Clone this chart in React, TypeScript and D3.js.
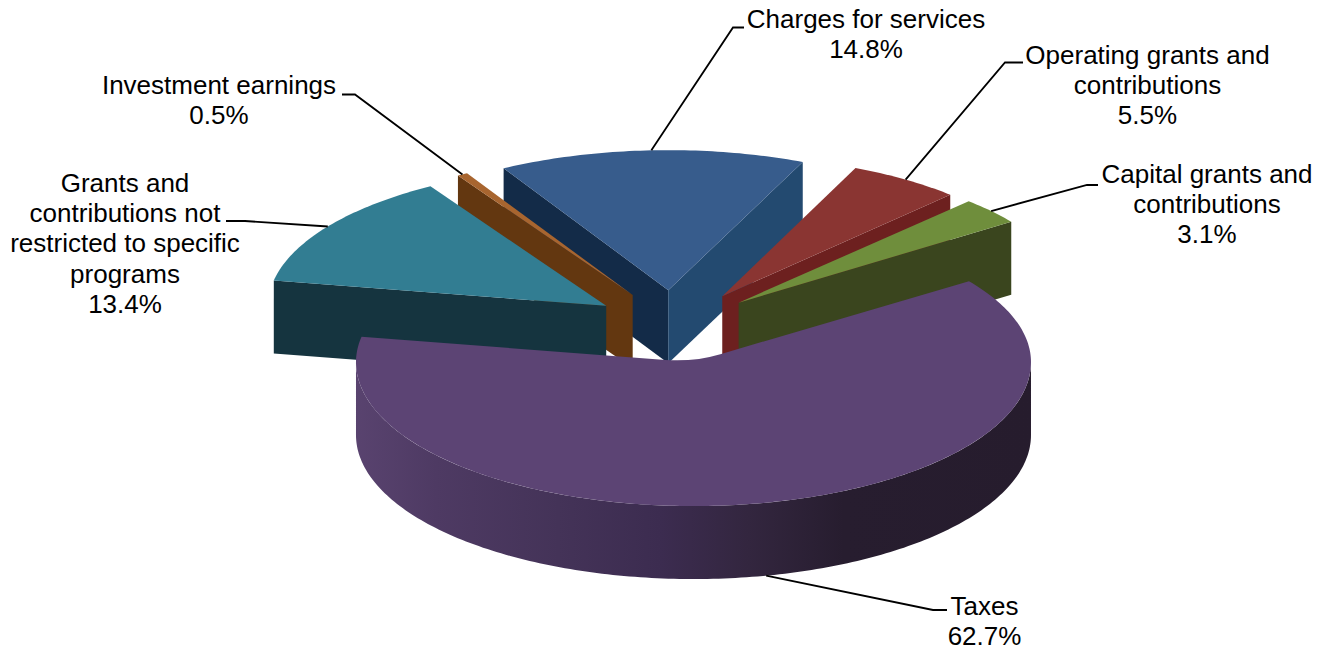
import React from "react";
import * as d3 from "d3";

// Share of revenue by source, in percent, clockwise from the Taxes slice
const categories = [
  "Taxes",
  "Grants and contributions not restricted to specific programs",
  "Investment earnings",
  "Charges for services",
  "Operating grants and contributions",
  "Capital grants and contributions",
];
const shares = [62.7, 13.4, 0.5, 14.8, 5.5, 3.1];
const shareLabels = ["62.7%", "13.4%", "0.5%", "14.8%", "5.5%", "3.1%"];

// Wrapped label text for each slice
const labelLines = [
  ["Taxes"],
  ["Grants and", "contributions not", "restricted to specific", "programs"],
  ["Investment earnings"],
  ["Charges for services"],
  ["Operating grants and", "contributions"],
  ["Capital grants and", "contributions"],
];

// Slice colours: top face, wall at the start angle, wall at the end angle
const topColors = ["#5c4474", "#327d92", "#a8652f", "#375c8c", "#8a3532", "#6f8e3c"];
const startWallColors = ["#3d2d50", "#15343f", "#633710", "#132b48", "#6d201f", "#3a451e"];
const endWallColors = ["#3d2d50", "#15343f", "#633710", "#234a70", "#6d201f", "#3a451e"];

// Perspective: far slices draw a little narrower than near ones
const sliceRadiusX = [337.5, 338, 336, 334, 331, 334];
const sliceShiftX = [0.5, 0, 0, -2.5, 1, 0.5];

// Label placement: text centre, first baseline, leader elbow and leader end
const labelCenters = [984.5, 125, 219, 866, 1147.5, 1207];
const labelBaselines = [615, 192, 94, 27.5, 64, 183];
const leaderElbows = [[933, 610], [245, 221], [355, 94.5], [733, 27.5], [1005, 62.5], [1087, 185]];
const leaderEnds = [[947, 610], [226, 221], [342, 94.5], [744, 27.5], [1023, 62.5], [1098, 185]];

const WIDTH = 1325;
const HEIGHT = 651;
const CENTER_X = 675;
const CENTER_Y = 326.5;
const RADIUS_Y_FAR = 140;
const RADIUS_Y_NEAR = 144;
const DEPTH = 73;
const EXPLODE = 83.5;
const EXPLODE_Y = 36.4;
const LINE_HEIGHT = 30.2;
const START_ANGLE = (54.7 * Math.PI) / 180;

const FONT = "'Liberation Sans', Arial, sans-serif";

const slices = d3
  .pie<number>()
  .sort(null)
  .value((d) => d)
  .startAngle(START_ANGLE)
  .endAngle(START_ANGLE + 2 * Math.PI)(shares);

type Pt = [number, number];

// Angles run clockwise from twelve o'clock on the tilted ellipse
const rim = (i: number, o: Pt, a: number, dy = 0): Pt => {
  const c = Math.cos(a);
  return [
    o[0] + sliceRadiusX[i] * Math.sin(a),
    o[1] - (c > 0 ? RADIUS_Y_FAR : RADIUS_Y_NEAR) * c + dy,
  ];
};

const line = d3.line<Pt>();

const arcPoints = (i: number, o: Pt, a0: number, a1: number, dy = 0): Pt[] => {
  const n = Math.max(4, Math.ceil(Math.abs(a1 - a0) * 60));
  return d3.range(n + 1).map((k) => rim(i, o, a0 + ((a1 - a0) * k) / n, dy));
};

const apexOf = (i: number, midAngle: number): Pt => [
  CENTER_X + sliceShiftX[i] + EXPLODE * Math.sin(midAngle),
  CENTER_Y - EXPLODE_Y * Math.cos(midAngle),
];

// Top face; the large slice gets a softened reflex corner at its apex
const topPath = (i: number, o: Pt, a0: number, a1: number, round: number) => {
  const arc = arcPoints(i, o, a0, a1);
  const body = line(arc) as string;
  if (!round) return `${body}L${o[0]},${o[1]}Z`;
  const toward = (p: Pt): Pt => {
    const d = Math.hypot(p[0] - o[0], p[1] - o[1]);
    return [o[0] + ((p[0] - o[0]) / d) * round, o[1] + ((p[1] - o[1]) / d) * round];
  };
  const a = toward(arc[arc.length - 1]);
  const b = toward(arc[0]);
  return `${body}L${a[0]},${a[1]}Q${o[0]},${o[1]} ${b[0]},${b[1]}Z`;
};

const radialWall = (i: number, o: Pt, a: number) => {
  const p = rim(i, o, a);
  return line([o, p, [p[0], p[1] + DEPTH], [o[0], o[1] + DEPTH]]) + "Z";
};

const outerWall = (i: number, o: Pt, a0: number, a1: number) => {
  const upper = arcPoints(i, o, a0, a1);
  const lower = arcPoints(i, o, a1, a0, DEPTH);
  return line([...upper, ...lower]) + "Z";
};

// Painted back to front so nearer slices cover the walls behind them
const paintOrder = [3, 2, 1, 4, 5, 0];

export default function App() {
  return (
    <svg
      width={WIDTH}
      height={HEIGHT}
      viewBox={`0 0 ${WIDTH} ${HEIGHT}`}
      style={{ position: "absolute", left: 0, top: 0, display: "block", background: "#fff" }}
      fontFamily={FONT}
    >
      <defs>
        <linearGradient id="taxesWall" gradientUnits="userSpaceOnUse" x1={355} x2={1033} y1={0} y2={0}>
          <stop offset="0" stopColor="#59436f" />
          <stop offset="0.12" stopColor="#4e3a63" />
          <stop offset="0.3" stopColor="#443358" />
          <stop offset="0.45" stopColor="#3c2c50" />
          <stop offset="0.58" stopColor="#33263f" />
          <stop offset="0.72" stopColor="#271d2f" />
          <stop offset="1" stopColor="#261c2d" />
        </linearGradient>
      </defs>

      {paintOrder.map((i) => {
        const s = slices[i];
        const mid = (s.startAngle + s.endAngle) / 2;
        const o = apexOf(i, mid);
        const showStart = Math.sin(s.startAngle) < -0.01;
        const showEnd = Math.sin(s.endAngle) > 0.01;
        const lo = Math.max(s.startAngle, Math.PI / 2);
        const hi = Math.min(s.endAngle, (3 * Math.PI) / 2);
        return (
          <g key={categories[i]}>
            {showStart && <path d={radialWall(i, o, s.startAngle)} fill={startWallColors[i]} />}
            {showEnd && <path d={radialWall(i, o, s.endAngle)} fill={endWallColors[i]} />}
            {hi > lo && i === 0 && <path d={outerWall(i, o, lo, hi)} fill="url(#taxesWall)" />}
            <path d={topPath(i, o, s.startAngle, s.endAngle, i === 0 ? 28 : 0)} fill={topColors[i]} />
          </g>
        );
      })}

      {slices.map((s, i) => {
        const mid = (s.startAngle + s.endAngle) / 2;
        const o = apexOf(i, mid);
        const isFront = Math.cos(mid) < 0;
        const anchor = rim(i, o, mid, isFront ? DEPTH : 0);
        const pts: Pt[] = [anchor, leaderElbows[i] as Pt, leaderEnds[i] as Pt];
        const lines = [...labelLines[i], shareLabels[i]];
        return (
          <g key={categories[i]}>
            <path d={line(pts) as string} fill="none" stroke="#000" strokeWidth={1.8} />
            <text textAnchor="middle" fontSize={26} fill="#000">
              {lines.map((t, k) => (
                <tspan key={k} x={labelCenters[i]} y={labelBaselines[i] + k * LINE_HEIGHT}>
                  {t}
                </tspan>
              ))}
            </text>
          </g>
        );
      })}
    </svg>
  );
}
